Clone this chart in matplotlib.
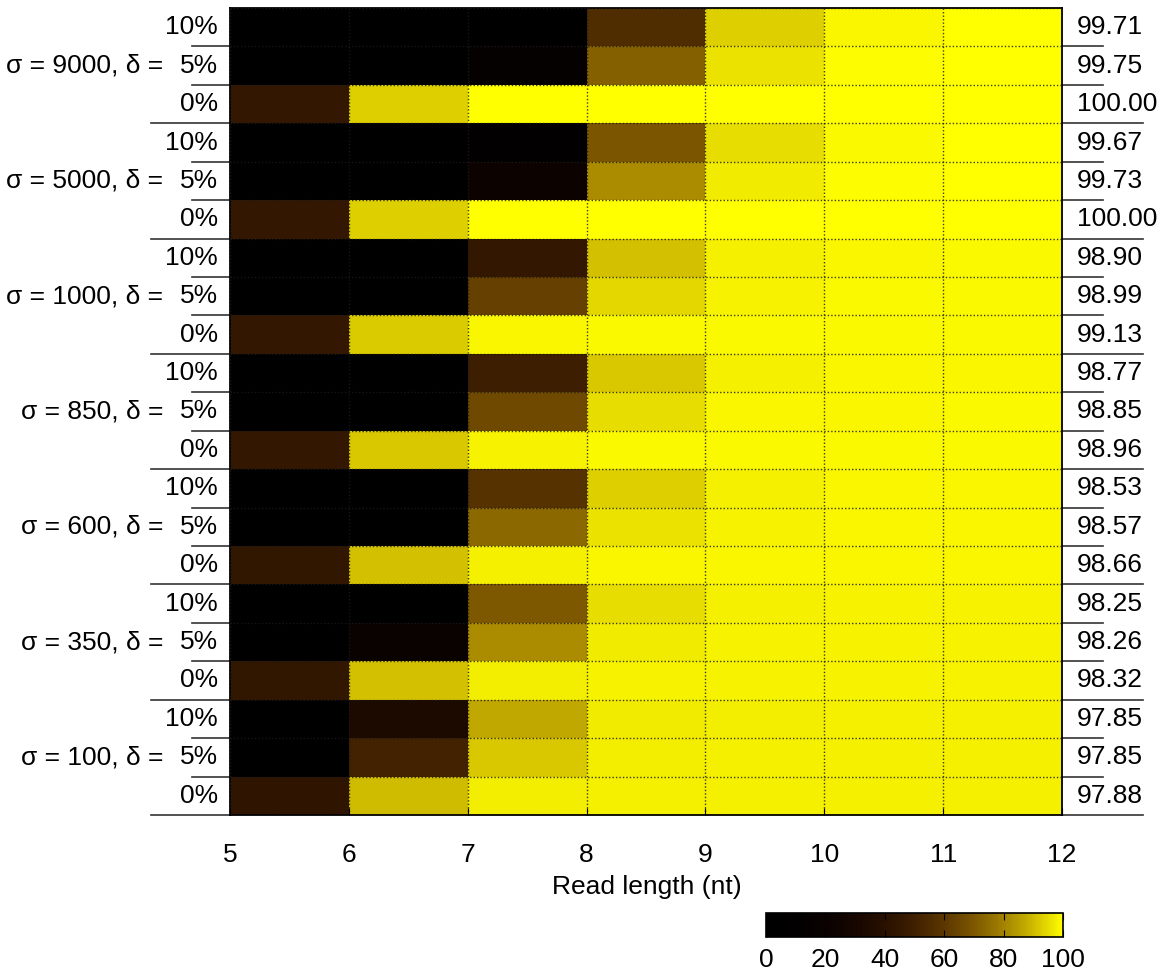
import numpy as np
import matplotlib
matplotlib.use("Agg")
import matplotlib.pyplot as plt
from matplotlib.colors import ListedColormap, Normalize
from matplotlib.cm import ScalarMappable
from matplotlib.transforms import blended_transform_factory

plt.rcParams['font.family'] = ['Liberation Sans', 'DejaVu Sans']
plt.rcParams['font.size'] = 19

# read lengths (cell edges) and row groups
read_len = [5, 6, 7, 8, 9, 10, 11, 12]
sigmas = [9000, 5000, 1000, 850, 600, 350, 100]
deltas = ["10%", "5%", "0%"]

# accuracy (%) per group, rows = delta 10%, 5%, 0%; columns = read length 5..11
acc_9000 = [[0, 0, 0, 56, 93, 98.8, 99.71],
            [0, 0, 14, 72, 96, 99.3, 99.75],
            [45, 93, 100, 100, 100, 100, 100.00]]
acc_5000 = [[0, 0, 8, 69.5, 95, 99.2, 99.67],
            [0, 0, 22, 82, 97, 99.4, 99.73],
            [45, 93, 100, 100, 100, 100, 100.00]]
acc_1000 = [[0, 0, 45, 91, 98, 98.7, 98.90],
            [0, 0, 63, 94.5, 98.3, 98.9, 98.99],
            [45, 92.5, 98.5, 99.1, 99.13, 99.13, 99.13]]
acc_850 = [[0, 0, 49, 92, 98, 98.7, 98.77],
           [0, 0, 66, 95, 98.5, 98.8, 98.85],
           [45, 92, 98.4, 98.9, 98.96, 98.96, 98.96]]
acc_600 = [[0, 0, 58, 93, 98, 98.5, 98.53],
           [0, 0, 74, 96, 98.4, 98.55, 98.57],
           [44, 91, 98, 98.6, 98.66, 98.66, 98.66]]
acc_350 = [[0, 5, 70, 95, 98, 98.2, 98.25],
           [0, 20, 82, 97, 98.2, 98.25, 98.26],
           [44, 91, 97.6, 98.2, 98.3, 98.32, 98.32]]
acc_100 = [[0, 33, 87, 97, 97.6, 97.8, 97.85],
           [0, 51, 92, 97.3, 97.7, 97.8, 97.85],
           [43, 90, 97.3, 97.7, 97.85, 97.88, 97.88]]

groups = [acc_9000, acc_5000, acc_1000, acc_850, acc_600, acc_350, acc_100]
Z = np.array([row for g in groups for row in g], dtype=float)
n_rows = Z.shape[0]

# black -> brown -> yellow palette (r = x^2, g = x^3, b = 0)
t = np.linspace(0, 1, 256)
cmap = ListedColormap(np.column_stack([t ** 2, t ** 3, np.zeros_like(t)]))

W, H = 1167, 976
fig = plt.figure(figsize=(W / 100, H / 100), dpi=100)
ax = fig.add_axes([230 / W, 1 - 815 / H, 832 / W, 807 / H])

ax.pcolormesh(read_len, np.arange(n_rows + 1), Z, cmap=cmap, vmin=0, vmax=100)
ax.set_xlim(read_len[0], read_len[-1])
ax.set_ylim(n_rows, 0)

ax.set_xticks(read_len)
ax.set_yticks(np.arange(n_rows + 1))
ax.set_yticklabels([])
ax.tick_params(axis='y', length=0)
ax.tick_params(axis='x', direction='in', length=5, pad=20)
ax.grid(True, color='#1a1a1a', linestyle=(0, (1, 1.5)), linewidth=1.0, alpha=0.85)
ax.set_axisbelow(False)
for s in ax.spines.values():
    s.set_linewidth(1.3)

fig.text(647 / W, 1 - 887 / H, "Read length (nt)", ha='center', va='center')

# row labels on the left, accuracy at 12 nt on the right
left = blended_transform_factory(fig.transFigure, ax.transData)
for i in range(n_rows):
    g, k = divmod(i, 3)
    yc = i + 0.5
    ax.text(218 / W, yc, deltas[k], transform=left, ha='right', va='center')
    ax.text(1077 / W, yc, f"{Z[i, -1]:.2f}", transform=left, ha='left', va='center')
    if k == 1:
        ax.text(163 / W, yc, f"σ = {sigmas[g]}, δ =", transform=left,
                ha='right', va='center')
    # separator lines below each row
    if k == 2:
        xl, xr = 151 / W, 1143 / W
    else:
        xl, xr = 192 / W, 1103 / W
    ax.plot([xl, 230 / W], [i + 1, i + 1], transform=left, color='#333333',
            lw=1.2, clip_on=False)
    ax.plot([1062 / W, xr], [i + 1, i + 1], transform=left, color='#333333',
            lw=1.2, clip_on=False)

# colour bar
cax = fig.add_axes([766 / W, 1 - 937 / H, 297 / W, 24 / H])
cb = fig.colorbar(ScalarMappable(norm=Normalize(0, 100), cmap=cmap),
                  cax=cax, orientation='horizontal')
cb.set_ticks([0, 20, 40, 60, 80, 100])
cax.tick_params(direction='in', length=5, top=True, pad=8)
cb.outline.set_linewidth(1.2)

fig.savefig("out.png", dpi=100)
